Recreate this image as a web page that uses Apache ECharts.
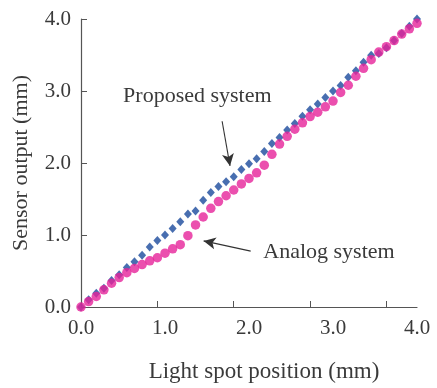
<!DOCTYPE html>
<html>
<head>
<meta charset="utf-8">
<script src="https://cdn.jsdelivr.net/npm/echarts@6/dist/echarts.min.js"></script>
<style>html,body{margin:0;padding:0;background:#fff}#c{width:437px;height:388px}</style>
</head>
<body>
<div id="c"></div>
<script>
// Light spot position step: 45 samples from 0.0 to 4.0 mm
const xPositions = [0,0.0909,0.1818,0.2727,0.3636,0.4545,0.5455,0.6364,0.7273,0.8182,0.9091,1.0,1.0909,1.1818,1.2727,1.3636,1.4545,1.5455,1.6364,1.7273,1.8182,1.9091,2.0,2.0909,2.1818,2.2727,2.3636,2.4545,2.5455,2.6364,2.7273,2.8182,2.9091,3.0,3.0909,3.1818,3.2727,3.3636,3.4545,3.5455,3.6364,3.7273,3.8182,3.9091,4.0];
const proposedSystem = [0,0.10,0.19,0.26,0.367,0.449,0.548,0.63,0.72,0.834,0.925,1.0,1.09,1.184,1.29,1.333,1.483,1.59,1.673,1.74,1.81,1.91,1.99,2.06,2.16,2.27,2.354,2.458,2.55,2.649,2.739,2.82,2.91,3.0,3.075,3.19,3.28,3.40,3.497,3.52,3.60,3.70,3.80,3.90,4.0];
const analogSystem = [0,0.075,0.146,0.238,0.33,0.408,0.476,0.535,0.59,0.642,0.684,0.748,0.808,0.866,0.99,1.14,1.25,1.37,1.465,1.545,1.625,1.71,1.786,1.864,1.97,2.12,2.263,2.37,2.47,2.558,2.645,2.705,2.78,2.86,2.98,3.08,3.205,3.315,3.435,3.54,3.615,3.70,3.79,3.864,3.94];
const xTickMarks = [0.9091,1.8182,2.7273,3.6364];
const yTickValues = [0,1,2,3,4];
const xLabelValues = [0,1,2,3,4];

const FONT = "'Liberation Serif','Times New Roman',serif";
const TXT = '#3a3a3a';

const chart = echarts.init(document.getElementById('c'), null, {renderer:'canvas'});
const pair = (xs, ys) => xs.map((x,i)=>[x, ys[i]]);

chart.setOption({
  animation:false,
  backgroundColor:'#fff',
  grid:{left:81,right:20,top:19,bottom:75,containLabel:false},
  xAxis:{
    type:'value',min:0,max:4,
    name:'Light spot position (mm)',nameLocation:'middle',nameGap:53,
    nameTextStyle:{fontFamily:FONT,fontSize:23,color:TXT,padding:[0,0,0,30]},
    axisLine:{lineStyle:{color:'#555',width:1.2}},
    axisTick:{inside:true,length:6,customValues:xTickMarks,lineStyle:{color:'#555'}},
    axisLabel:{customValues:xLabelValues,formatter:v=>v.toFixed(1),fontFamily:FONT,fontSize:21,color:TXT,margin:11},
    splitLine:{show:false}
  },
  yAxis:{
    type:'value',min:0,max:4,interval:1,
    name:'Sensor output (mm)',nameLocation:'middle',nameGap:49,
    nameTextStyle:{fontFamily:FONT,fontSize:22,color:TXT,padding:[0,0,0,0]},
    axisLine:{show:true,lineStyle:{color:'#555',width:1.2}},
    axisTick:{show:true,inside:true,length:6,lineStyle:{color:'#555'}},
    axisLabel:{formatter:v=>v.toFixed(1),fontFamily:FONT,fontSize:21,color:TXT,margin:10},
    splitLine:{show:false}
  },
  series:[
    {name:'Proposed system',type:'scatter',clip:false,symbol:'diamond',symbolSize:[8,9],
     itemStyle:{color:'#1a4a9c'},data:pair(xPositions,proposedSystem),z:3,
     markLine:{silent:true,symbol:['none','arrow'],symbolSize:[9,12],label:{show:false},
       lineStyle:{color:'#333',width:1.1,type:'solid'},
       data:[[{coord:[1.68,2.58]},{coord:[1.774,1.96]}],[{coord:[2.02,0.776]},{coord:[1.46,0.918]}]]}},
    {name:'Analog system',type:'scatter',clip:false,symbol:'circle',symbolSize:9.5,
     itemStyle:{color:'#e6239a'},data:pair(xPositions,analogSystem),z:4}
  ]
});

const p1 = chart.convertToPixel({gridIndex:0},[1.385,2.93]);
const p2 = chart.convertToPixel({gridIndex:0},[2.17,0.762]);
chart.setOption({
  graphic:[
    {type:'text',x:p1[0],y:p1[1],style:{text:'Proposed system',font:'22px '+FONT,fill:TXT,align:'center',verticalAlign:'middle'}},
    {type:'text',x:p2[0],y:p2[1],style:{text:'Analog system',font:'22px '+FONT,fill:TXT,align:'left',verticalAlign:'middle'}}
  ]
});
</script>
</body>
</html>
